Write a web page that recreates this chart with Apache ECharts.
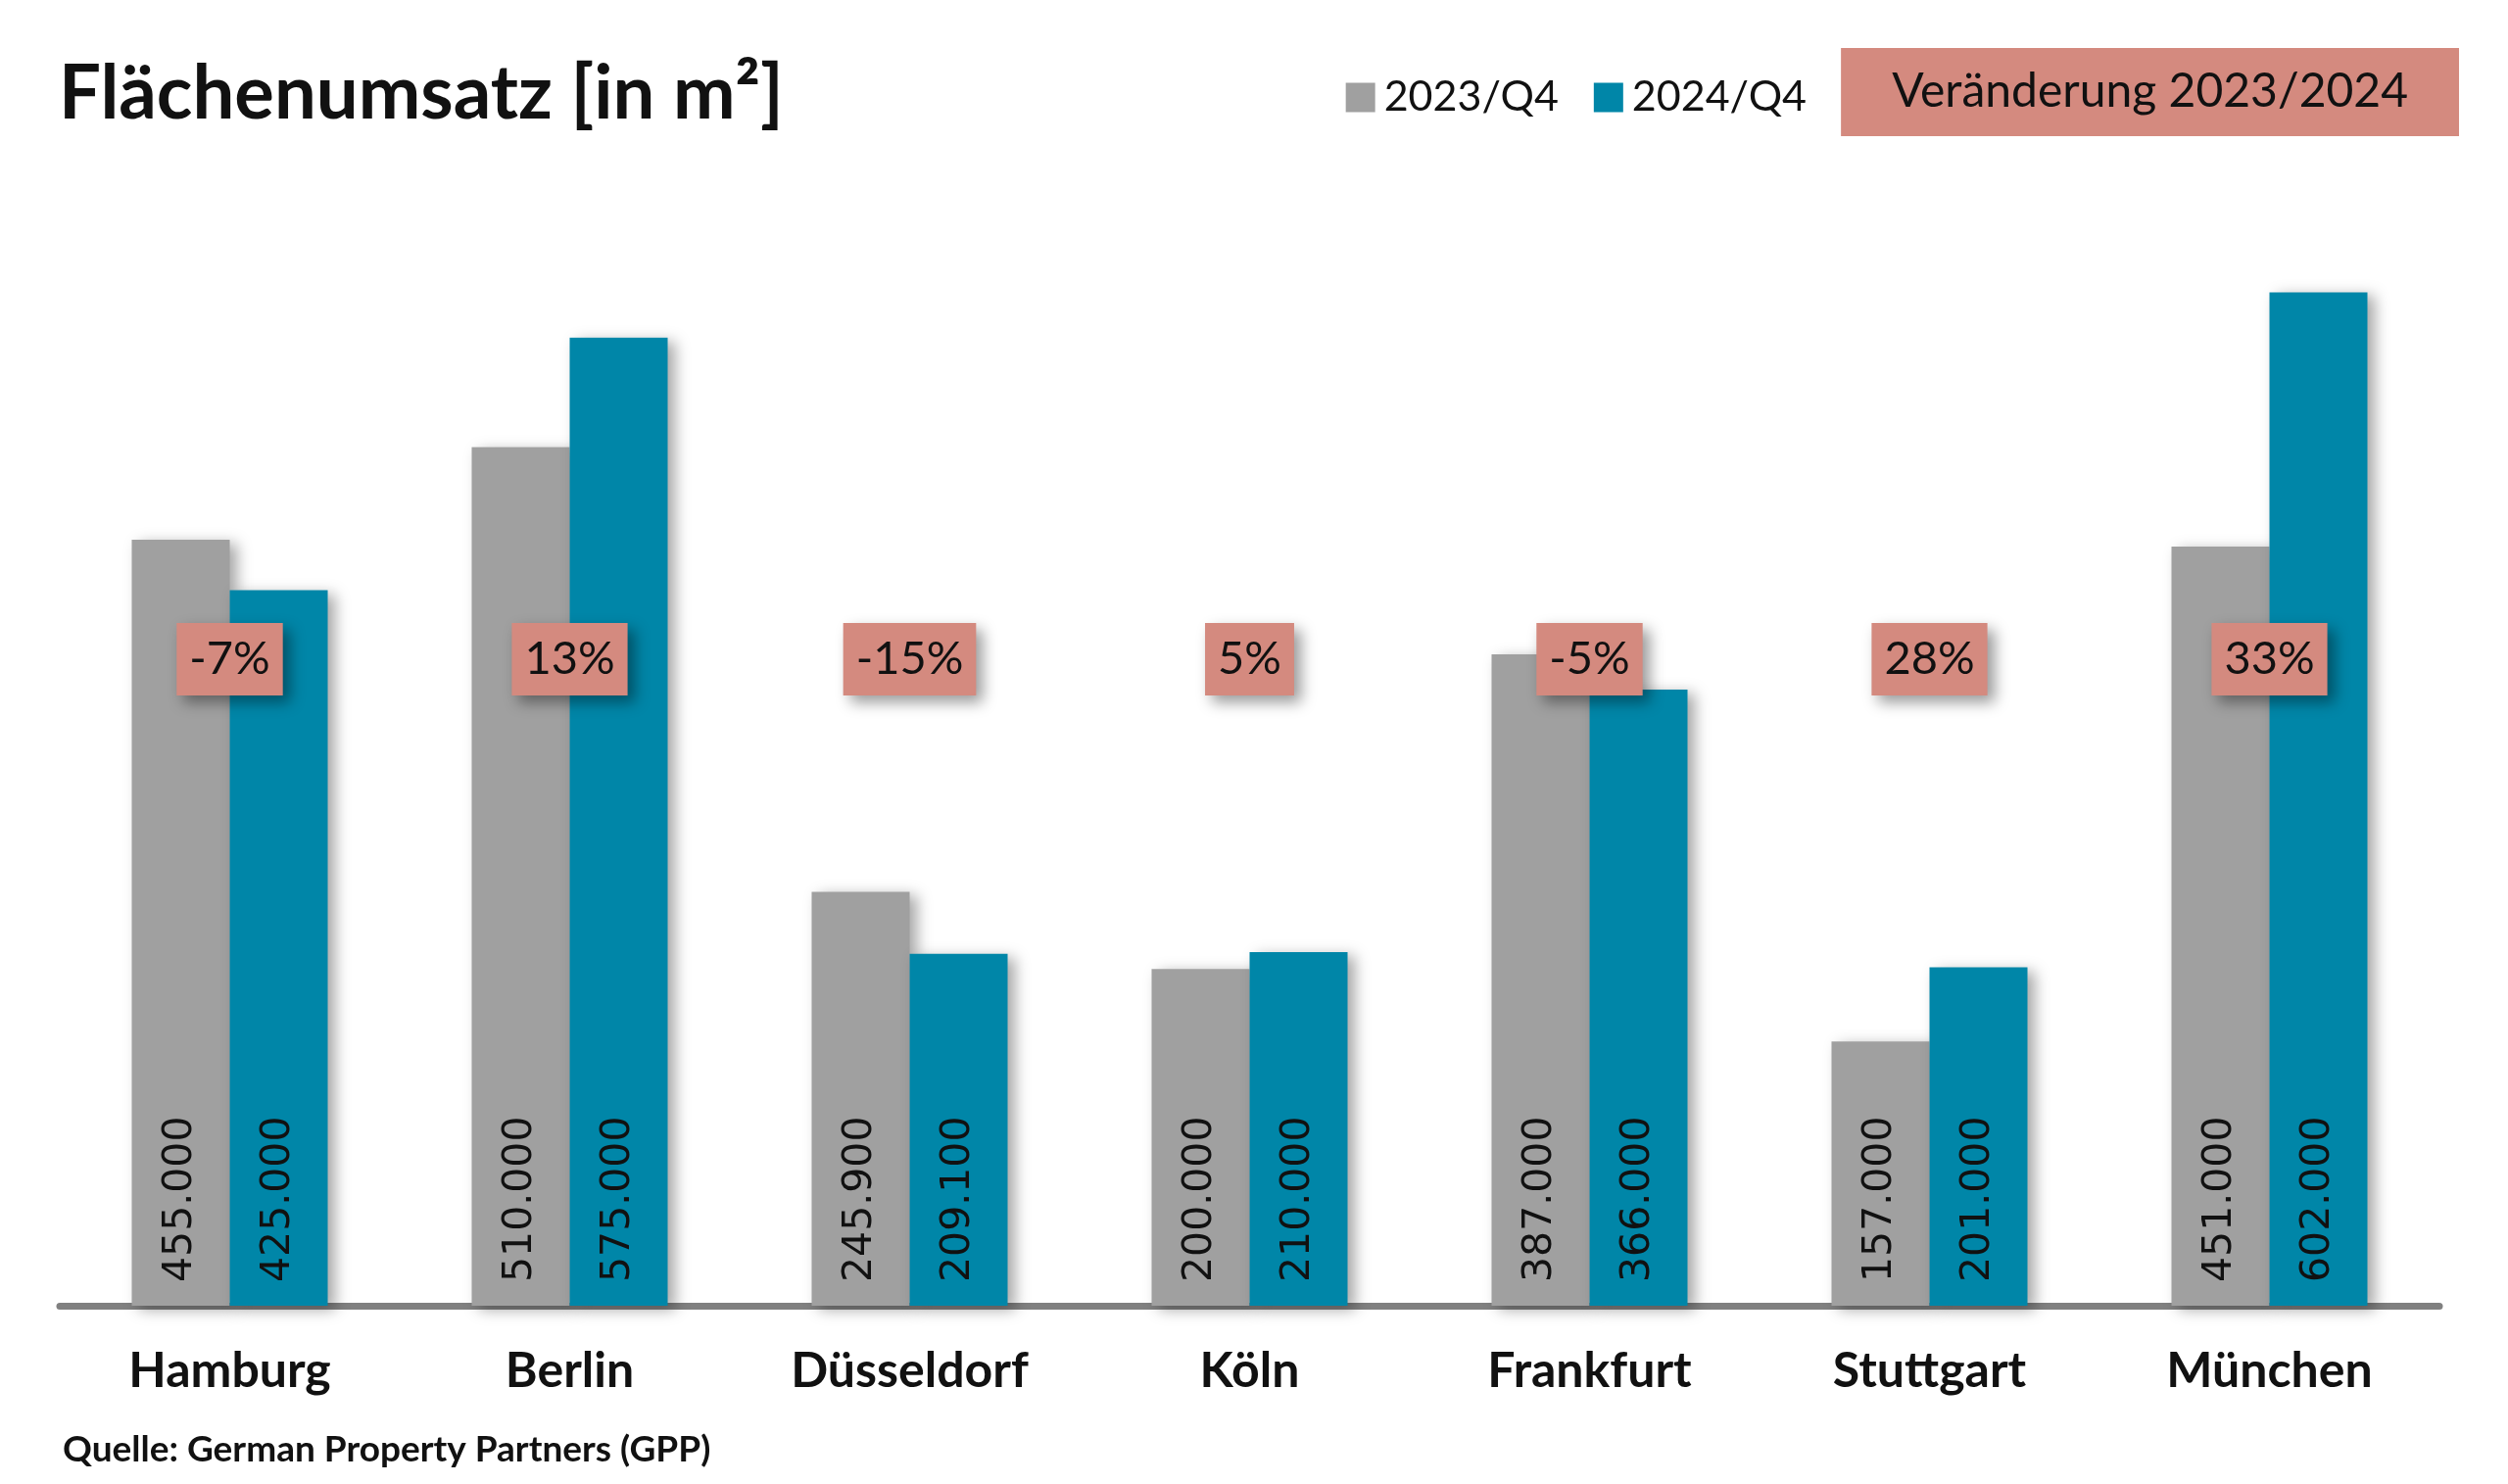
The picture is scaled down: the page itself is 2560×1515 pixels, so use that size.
<!DOCTYPE html>
<html>
<head>
<meta charset="utf-8">
<script src="https://cdn.jsdelivr.net/npm/echarts@6/dist/echarts.min.js"></script>
<style>
html,body{margin:0;padding:0;background:#fff;}
#chart{width:2560px;height:1515px;}
</style>
</head>
<body>
<div id="chart"></div>
<script>
// ---- data ----
var categories = ['Hamburg', 'Berlin', 'Düsseldorf', 'Köln', 'Frankfurt', 'Stuttgart', 'München'];
var values2023 = [455000, 510000, 245900, 200000, 387000, 157000, 451000];
var values2024 = [425000, 575000, 209100, 210000, 366000, 201000, 602000];
var changeLabels = ['-7%', '13%', '-15%', '5%', '-5%', '28%', '33%'];
var seriesNames = ['2023/Q4', '2024/Q4'];

// ---- styling constants ----
var FONT = 'Lato, "Noto Sans", sans-serif';
var GRAY = '#a0a0a0';
var TEAL = '#0086a8';
var SALMON = '#d48a7f';
var LABEL_LEVEL = 384000; // vertical level of the change boxes

function fmt(v) {
  return String(v).replace(/\B(?=(\d{3})+(?!\d))/g, '.');
}

var barShadow = {
  shadowBlur: 14,
  shadowColor: 'rgba(0,0,0,0.35)',
  shadowOffsetX: 7,
  shadowOffsetY: 4
};

var valueLabel = {
  show: true,
  position: 'insideBottom',
  rotate: 90,
  align: 'left',
  verticalAlign: 'middle',
  distance: 24,
  color: '#111',
  fontFamily: '"DejaVu Sans", Verdana, sans-serif',
  fontSize: 41,
  formatter: function (p) { return fmt(p.value); }
};

var chart = echarts.init(document.getElementById('chart'));
chart.setOption({
  backgroundColor: '#ffffff',
  animation: false,
  title: [
    {
      text: 'Flächenumsatz [in m²]',
      left: 60,
      top: 58,
      padding: 0,
      textStyle: { fontFamily: FONT, fontWeight: 'bold', fontSize: 76, color: '#111' }
    },
    {
      text: 'Veränderung 2023/2024',
      right: 50,
      top: 49,
      padding: [20, 52, 20, 52],
      backgroundColor: SALMON,
      textStyle: { fontFamily: FONT, fontWeight: 'normal', fontSize: 48, color: '#111', lineHeight: 50 }
    },
    {
      text: 'Quelle: German Property Partners (GPP)',
      left: 64,
      top: 1462,
      padding: 0,
      textStyle: { fontFamily: FONT, fontWeight: 'bold', fontSize: 37, color: '#111' }
    }
  ],
  legend: {
    data: seriesNames,
    right: 716,
    top: 78,
    padding: 0,
    itemWidth: 30,
    itemHeight: 30,
    itemGap: 36,
    icon: 'rect',
    textStyle: { fontFamily: FONT, fontSize: 43, color: '#111', padding: [0, 0, 0, 4] }
  },
  grid: { left: 61, right: 70, top: 130, bottom: 182 },
  xAxis: {
    type: 'category',
    data: categories,
    axisLine: { show: true, lineStyle: { color: '#808080', width: 7 } },
    axisTick: { show: false },
    axisLabel: {
      margin: 42,
      fontFamily: FONT,
      fontWeight: 'bold',
      fontSize: 50,
      color: '#111'
    }
  },
  yAxis: {
    type: 'value',
    min: 0,
    max: 700000,
    show: false,
    splitLine: { show: false }
  },
  series: [
    {
      name: seriesNames[0],
      type: 'bar',
      data: values2023,
      barWidth: 100,
      barGap: '0%',
      itemStyle: Object.assign({ color: GRAY }, barShadow),
      label: valueLabel,
      z: 2
    },
    {
      name: seriesNames[1],
      type: 'bar',
      data: values2024,
      barWidth: 100,
      barGap: '0%',
      itemStyle: Object.assign({ color: TEAL }, barShadow),
      label: valueLabel,
      z: 3
    },
    {
      name: 'change',
      type: 'scatter',
      data: categories.map(function () { return LABEL_LEVEL; }),
      symbolSize: 0,
      itemStyle: { color: SALMON, opacity: 1 },
      z: 10,
      silent: true,
      emphasis: { disabled: true },
      label: {
        show: true,
        opacity: 1,
        position: 'inside',
        formatter: function (p) { return changeLabels[p.dataIndex]; },
        fontFamily: FONT,
        fontSize: 47,
        lineHeight: 48,
        color: '#111',
        backgroundColor: SALMON,
        padding: [13, 13, 13, 13],
        shadowBlur: 14,
        shadowColor: 'rgba(0,0,0,0.4)',
        shadowOffsetX: 7,
        shadowOffsetY: 7
      }
    }
  ]
});
</script>
</body>
</html>
